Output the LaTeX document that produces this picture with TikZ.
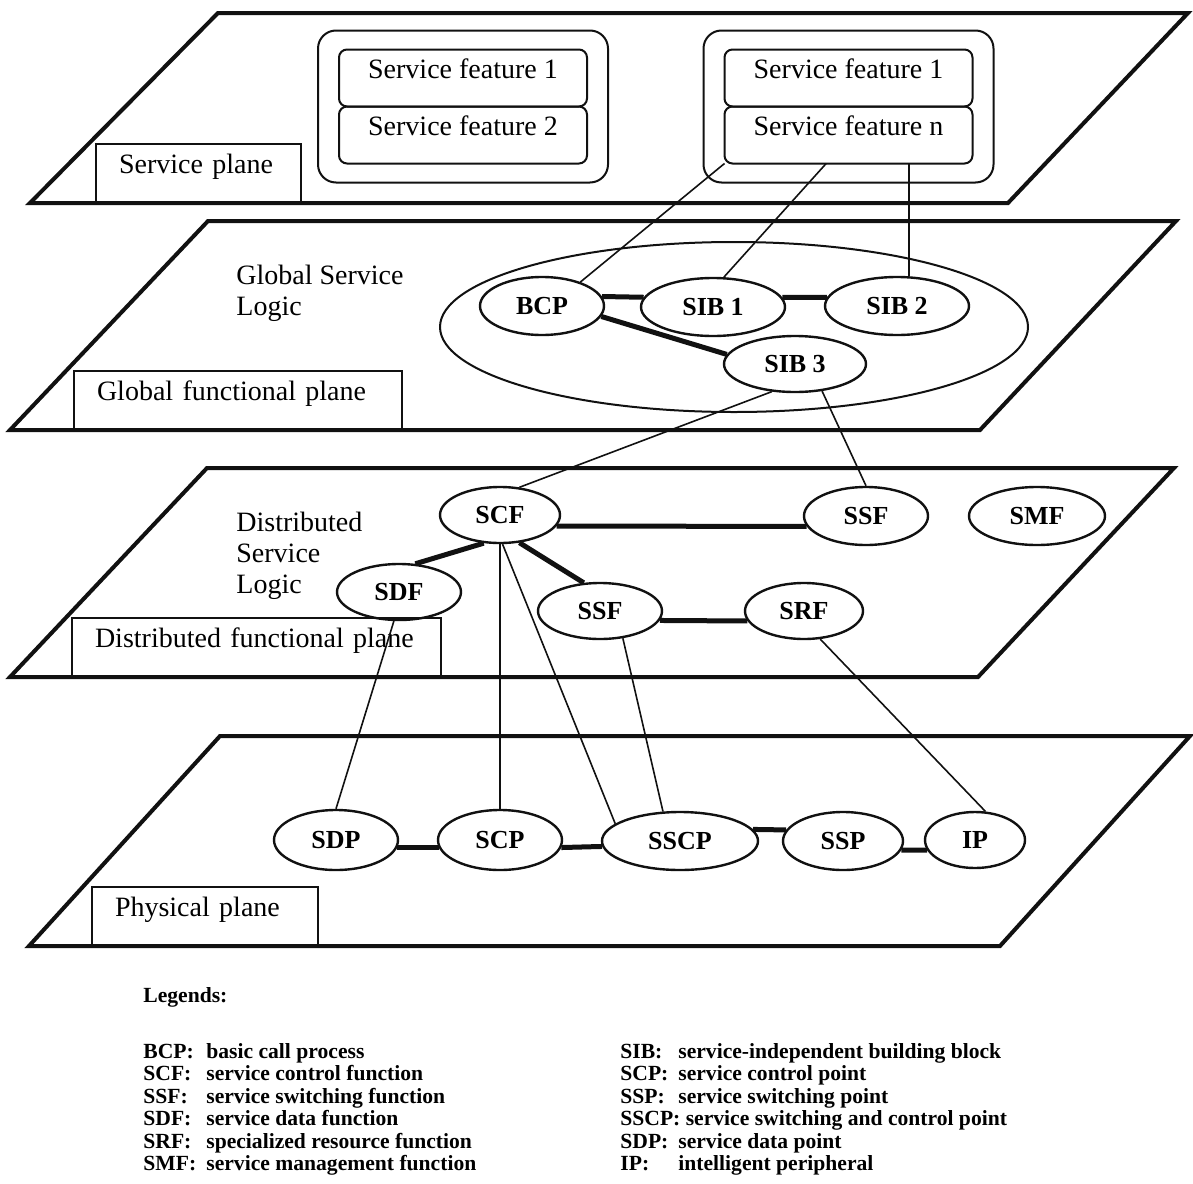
\documentclass[tikz,border=0pt]{standalone}
\usepackage{fontspec}
\setmainfont{Liberation Serif}
\usepackage{xcolor}
\usepackage{tikz}
\usetikzlibrary{positioning,shapes.geometric,fit,calc}
\definecolor{cInk}{HTML}{111111}

\begin{document}
\begin{tikzpicture}[
  x=0.5pt, y=-0.5pt,
  font=\fontsize{14}{15.5}\selectfont,
  plane/.style={draw=cInk, line width=2pt},
  tag/.style={draw=cInk, line width=1pt, inner xsep=11.5pt, inner ysep=0pt, text height=14.5pt, text depth=14.5pt, align=left, anchor=south west},
  feat/.style={draw=cInk, line width=1pt, rounded corners=4pt, minimum width=124pt, minimum height=28.5pt, inner ysep=0pt, outer sep=0pt, text height=14.25pt, text depth=14.25pt},
  group/.style={draw=cInk, line width=1pt, rounded corners=9pt, inner xsep=10.5pt, inner ysep=9.5pt},
  unit/.style={draw=cInk, ellipse, line width=1.2pt, minimum width=62pt, minimum height=29pt, inner sep=0pt, font=\fontsize{13}{14}\selectfont\bfseries},
  link/.style={cInk, line width=2.5pt},
  wire/.style={cInk, line width=0.8pt},
  logic/.style={align=left, anchor=north west, inner sep=0pt},
  legend/.style={font=\fontsize{10.8}{11.25}\selectfont\bfseries, inner sep=0pt, anchor=base west},
]
\useasboundingbox (0,0) rectangle (1193,1183);

% ---------- Service plane ----------
\draw[plane] (218,13) -- (1188,13) -- (1008,203) -- (30,203) -- cycle;
\node[tag, text width=79.5pt] (tsp) at (95,203) {Service plane};
\node[feat] (sf1a) at (463,78) {Service feature 1};
\node[feat, below=0pt of sf1a] (sf2a) {Service feature 2};
\node[group, fit=(sf1a)(sf2a)] (ga) {};
\node[feat] (sf1b) at (848.5,78) {Service feature 1};
\node[feat, below=0pt of sf1b] (sfnb) {Service feature n};
\node[group, fit=(sf1b)(sfnb)] (gb) {};

% ---------- Global functional plane ----------
\draw[plane] (208,221) -- (1176,221) -- (980,430) -- (10,430) -- cycle;
\node[tag, text width=141pt] (tgf) at (73,430) {Global functional plane};
\node[logic] (gsl) at (236,265) {Global Service\\Logic};
\node[draw=cInk, ellipse, line width=1pt, minimum width=294pt, minimum height=85pt] (pool) at (734,327) {};
\node[unit] (bcp) at (542,306) {BCP};
\node[unit, minimum width=72pt] (sib1) at (713,307) {SIB 1};
\node[unit, minimum width=72pt] (sib2) at (897,306) {SIB 2};
\node[unit, minimum width=71pt, minimum height=28pt] (sib3) at (795,364) {SIB 3};
\draw[link] (bcp.9) -- (sib1.172);
\draw[link] (sib1.8) -- (sib2.173);
\draw[link] (bcp.-10) -- (sib3.172);

% feature n down to the building blocks
\coordinate (drop) at ($(sfnb.south west)!0.745!(sfnb.south east)$);
\draw[wire] (sfnb.south west) -- (bcp.32);
\draw[wire] ($(sfnb.south west)!0.41!(sfnb.south east)$) -- (sib1.70);
\draw[wire] (drop) -- (drop |- sib2.north);

% ---------- Distributed functional plane ----------
\draw[plane] (207,468) -- (1174,468) -- (978,677) -- (10,677) -- cycle;
\node[tag, text width=161.5pt] (tdf) at (71,677) {Distributed functional plane};
\node[logic] (dsl) at (236,512) {Distributed\\Service\\Logic};
\node[unit, minimum width=60pt, minimum height=28pt] (scf) at (500,515) {SCF};
\node[unit, minimum height=28pt] (sdf) at (399,592) {SDF};
\node[unit, minimum height=28pt] (ssfb) at (600,611) {SSF};
\node[unit] (ssfa) at (866,516) {SSF};
\node[unit, minimum width=68pt] (smf) at (1037,516) {SMF};
\node[unit, minimum width=59pt, minimum height=28pt] (srf) at (804,611) {SRF};
\draw[link] (scf.-11) -- (ssfa.190);
\draw[link] (scf.240) -- (sdf.60);
\draw[link] (scf.-55) -- (ssfb.120);
\draw[link] (ssfb.-9.5) -- (srf.190);

% SIB 3 down to the functions
\draw[wire] (sib3.230) -- (scf.55);
\draw[wire] (sib3.-45) -- (ssfa.north);

% ---------- Physical plane ----------
\draw[plane] (220,736) -- (1190,736) -- (1000,946) -- (29,946) -- cycle;
\node[tag, text width=89.75pt] (tpp) at (91,946) {Physical plane};
\node[unit, minimum height=30pt] (sdp) at (336,840) {SDP};
\node[unit, minimum height=30pt] (scp) at (500,840) {SCP};
\node[unit, minimum width=78pt] (sscp) at (680,841) {SSCP};
\node[unit, minimum width=60pt] (ssp) at (843,841) {SSP};
\node[unit, minimum width=50pt, minimum height=28pt] (ip) at (975,840) {IP};
\draw[link] (sdp.-7) -- (scp.187);
\draw[link] (scp.-7) -- (sscp.184.5);
\draw[link] (sscp.9) -- (ssp.169);
\draw[link] (ssp.-9) -- (ip.192);

% functions down to the physical entities
\draw[wire] (sdf.-100) -- (sdp.north);
\draw[wire] (scf.south) -- (scp.north);
\draw[wire] (scf.-85) -- (sscp.165);
\draw[wire] (ssfb.-50) -- (sscp.120);
\draw[wire] (srf.-60) -- (ip.70);

% ---------- legend ----------
\node[legend] (leg) at (143,1002) {Legends:};
\node[legend] (legl) at (143,1058) {\begin{tabular}[t]{@{}p{31.5pt}@{}l@{}}
BCP: & basic call process\\
SCF: & service control function\\
SSF: & service switching function\\
SDF: & service data function\\
SRF: & specialized resource function\\
SMF: & service management function
\end{tabular}};
\node[legend] (legr) at (620,1058) {\begin{tabular}[t]{@{}p{29pt}@{}l@{}}
SIB: & service-independent building block\\
SCP: & service control point\\
SSP: & service switching point\\
\multicolumn{2}{@{}l@{}}{SSCP: service switching and control point}\\
SDP: & service data point\\
IP: & intelligent peripheral
\end{tabular}};

\end{tikzpicture}
\end{document}
